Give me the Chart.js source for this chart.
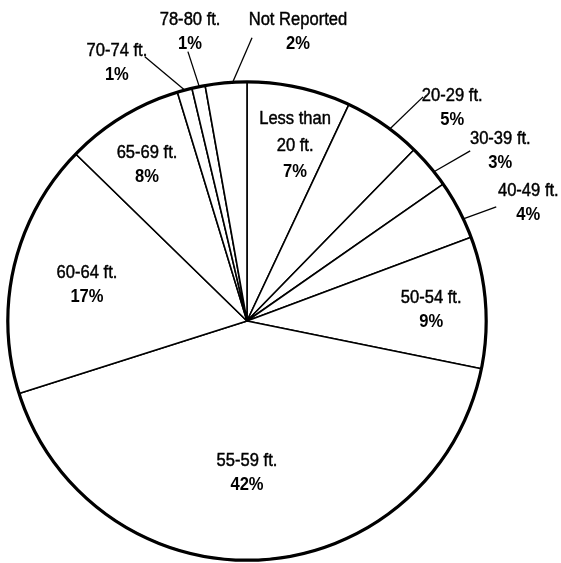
<!DOCTYPE html>
<html>
<head>
<meta charset="utf-8">
<script src="https://cdn.jsdelivr.net/npm/chart.js@4/dist/chart.umd.min.js"></script>
<style>
  html, body { margin: 0; padding: 0; background: #fff; }
  #wrap { width: 561px; height: 563px; position: relative; }
</style>
</head>
<body>
<div id="wrap"><canvas id="c"></canvas></div>
<script>
// ---- data ----
const categories = ['Less than 20 ft.', '20-29 ft.', '30-39 ft.', '40-49 ft.', '50-54 ft.', '55-59 ft.', '60-64 ft.', '65-69 ft.', '70-74 ft.', '78-80 ft.', 'Not Reported'];
const labelLines = [['Less than', '20 ft.'], ['20-29 ft.'], ['30-39 ft.'], ['40-49 ft.'], ['50-54 ft.'], ['55-59 ft.'], ['60-64 ft.'], ['65-69 ft.'], ['70-74 ft.'], ['78-80 ft.'], ['Not Reported']];
const shares = [7.0, 5.3, 3.0, 4.0, 8.9, 41.9, 17.2, 8.0, 1.0, 0.9, 2.8];
const percentLabels = ['7%', '5%', '3%', '4%', '9%', '42%', '17%', '8%', '1%', '1%', '2%'];

// ---- label layout (offsets in units of the pie radius, relative to the centre) ----
const labelPos = [
  [0.201, -0.733], [0.858, -0.891], [1.059, -0.711], [1.176, -0.494], [0.770, -0.046],
  [0.0, 0.636], [-0.669, -0.151], [-0.418, -0.653], [-0.544, -1.079], [-0.238, -1.209], [0.213, -1.209]
];
const leaderStartFrac = [null, 0.6, 0.66, 0.67, null, null, null, null, 0.5, 0.56, 0.66];
const leaderEnd = [
  null, [0.736, -0.937], [0.933, -0.711], [1.042, -0.477], null,
  null, null, null, [-0.427, -1.105], [-0.247, -1.126], [0.021, -1.184]
];

const decorPlugin = {
  id: 'decor',
  afterDatasetsDraw(chart) {
    const ctx = chart.ctx;
    const arcs = chart.getDatasetMeta(0).data;
    const p0 = arcs[0].getProps(['x', 'y', 'outerRadius'], true);
    const cx = p0.x, cy = p0.y, R = p0.outerRadius;
    ctx.save();
    ctx.strokeStyle = '#000';
    // thick outer ring
    ctx.beginPath();
    ctx.arc(cx, cy, R, 0, Math.PI * 2);
    ctx.lineWidth = 3.2;
    ctx.stroke();
    // leader lines
    ctx.lineWidth = 1.3;
    arcs.forEach((a, i) => {
      const e = leaderEnd[i];
      if (!e) return;
      const p = a.getProps(['startAngle', 'endAngle'], true);
      const ang = p.startAngle + (p.endAngle - p.startAngle) * leaderStartFrac[i];
      ctx.beginPath();
      ctx.moveTo(cx + Math.cos(ang) * R, cy + Math.sin(ang) * R);
      ctx.lineTo(cx + e[0] * R, cy + e[1] * R);
      ctx.stroke();
    });
    // labels
    ctx.fillStyle = '#000';
    ctx.textAlign = 'center';
    ctx.textBaseline = 'middle';
    const sx = 0.92;
    arcs.forEach((a, i) => {
      const lines = labelLines[i].map(t => ({ t, bold: false })).concat([{ t: percentLabels[i], bold: true }]);
      const lh = lines.length > 2 ? 26.5 : 24.5;
      const bx = cx + labelPos[i][0] * R;
      const by = cy + labelPos[i][1] * R;
      lines.forEach((ln, k) => {
        const ly = by + (k - (lines.length - 1) / 2) * lh;
        ctx.save();
        ctx.translate(bx, ly);
        ctx.scale(sx, 1);
        ctx.font = (ln.bold ? 'bold ' : '') + '18px "Liberation Sans", Arial, sans-serif';
        ctx.fillText(ln.t, 0, 0);
        if (!ln.bold) {
          ctx.lineWidth = 0.45;
          ctx.strokeText(ln.t, 0, 0);
        }
        ctx.restore();
      });
    });
    ctx.restore();
  }
};

new Chart(document.getElementById('c'), {
  type: 'pie',
  data: {
    labels: categories,
    datasets: [{
      data: shares,
      backgroundColor: '#ffffff',
      borderColor: '#000000',
      borderWidth: 1.6
    }]
  },
  options: {
    responsive: true,
    maintainAspectRatio: false,
    animation: false,
    layout: { padding: { left: 7, right: 74, top: 81, bottom: 2 } },
    plugins: {
      legend: { display: false },
      tooltip: { enabled: false },
      title: { display: false }
    }
  },
  plugins: [decorPlugin]
});
</script>
</body>
</html>
